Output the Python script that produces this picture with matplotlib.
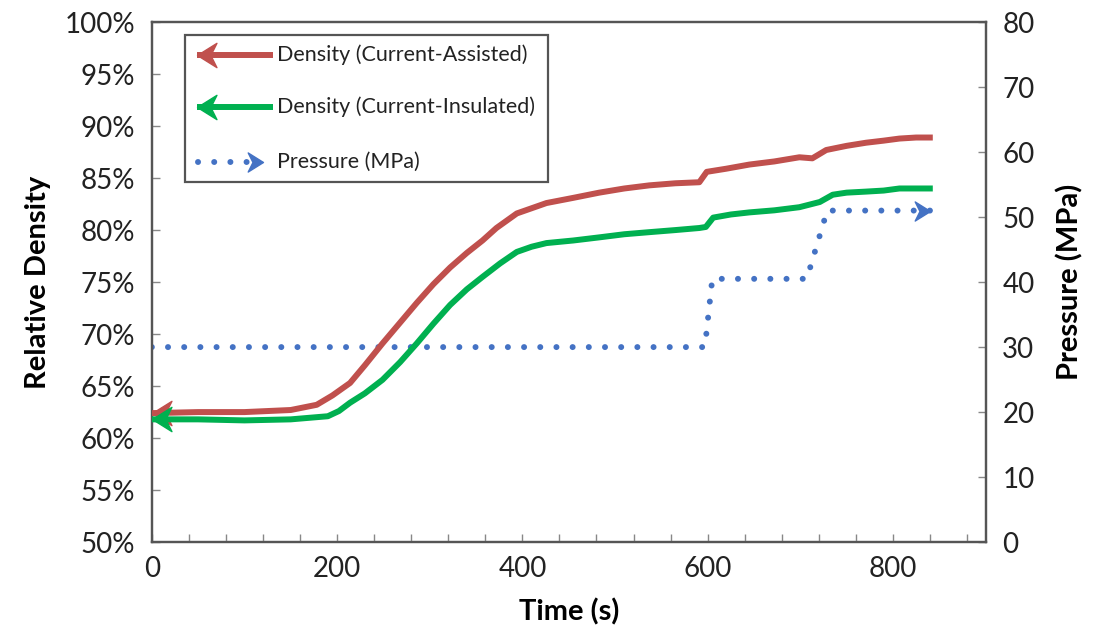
import matplotlib
matplotlib.use("Agg")
import matplotlib.pyplot as plt
from matplotlib.path import Path
from matplotlib.patches import Rectangle
from matplotlib.ticker import MultipleLocator, FuncFormatter

plt.rcParams['font.family'] = ['Lato', 'DejaVu Sans']

# ---------------------------
# Data
# ---------------------------
red_t = [0, 50, 100, 150, 178, 195, 214, 230, 249, 268, 286, 304, 322, 340, 357,
         372, 394, 426, 455, 483, 510, 537, 565, 591, 599, 620, 645, 672, 699, 713,
         728, 750, 771, 790, 807, 825, 843]
red_d = [62.4, 62.5, 62.5, 62.7, 63.2, 64.1, 65.3, 67.0, 69.1, 71.1, 73.0, 74.8, 76.4, 77.8, 79.0,
         80.2, 81.6, 82.6, 83.1, 83.6, 84.0, 84.3, 84.5, 84.6, 85.6, 85.9, 86.3, 86.6, 87.0, 86.9,
         87.7, 88.1, 88.4, 88.6, 88.8, 88.9, 88.9]

green_t = [0, 50, 100, 150, 190, 202, 214, 230, 249, 268, 286, 304, 322, 340, 357,
           376, 394, 410, 426, 455, 483, 510, 537, 565, 591, 598, 606, 625, 645, 672,
           699, 721, 735, 750, 771, 790, 807, 825, 843]
green_d = [61.8, 61.8, 61.7, 61.8, 62.1, 62.6, 63.4, 64.3, 65.6, 67.3, 69.1, 71.0, 72.8, 74.3, 75.5,
           76.8, 77.9, 78.4, 78.75, 79.0, 79.3, 79.6, 79.8, 80.0, 80.2, 80.3, 81.2, 81.5, 81.7, 81.9,
           82.2, 82.7, 83.4, 83.6, 83.7, 83.8, 84.0, 84.0, 84.0]

press_t = [0, 597, 605, 707, 729, 840]
press_v = [30, 30, 40.5, 40.5, 51, 51]

labels = ["Density (Current-Assisted)", "Density (Current-Insulated)", "Pressure (MPa)"]
RED, GREEN, BLUE = "#C0504D", "#00B050", "#4472C4"
SPINE = "#555555"

# arrow head markers (tip at the data point)
head_left = Path([(0, 0), (1.6, 1.0), (1.1, 0), (1.6, -1.0), (0, 0)],
                 [Path.MOVETO, Path.LINETO, Path.LINETO, Path.LINETO, Path.CLOSEPOLY])
head_right = Path([(0, 0), (-1.6, 1.0), (-1.1, 0), (-1.6, -1.0), (0, 0)],
                  [Path.MOVETO, Path.LINETO, Path.LINETO, Path.LINETO, Path.CLOSEPOLY])

fig = plt.figure(figsize=(11, 6.4), dpi=100)
ax = fig.add_axes([0.138, 0.153, 0.758, 0.8125])
ax2 = ax.twinx()

# ---------------------------
# Curves
# ---------------------------
ax.plot(red_t, red_d, color=RED, lw=4.3, solid_capstyle='butt', zorder=3)
ax.plot(red_t[:1], red_d[:1], ls='none', marker=head_left, ms=28, color=RED,
        mec=RED, clip_on=False, zorder=3)
ax.plot(green_t, green_d, color=GREEN, lw=4.3, solid_capstyle='butt', zorder=4)
ax.plot(green_t[:1], green_d[:1], ls='none', marker=head_left, ms=28, color=GREEN,
        mec=GREEN, clip_on=False, zorder=4)

ax2.plot(press_t, press_v, color=BLUE, lw=4.3, ls=(0, (0.01, 2.7)),
         dash_capstyle='round', zorder=2)
ax2.plot(press_t[-1:], press_v[-1:], ls='none', marker=head_right, ms=22,
         color=BLUE, mec=BLUE, zorder=2)

# ---------------------------
# Axes styling
# ---------------------------
ax.set_xlim(0, 900)
ax.set_ylim(50, 100)
ax2.set_ylim(0, 80)

ax.xaxis.set_major_locator(MultipleLocator(200))
ax.xaxis.set_minor_locator(MultipleLocator(40))
ax.yaxis.set_major_locator(MultipleLocator(5))
ax.yaxis.set_major_formatter(FuncFormatter(lambda v, p: f"{v:.0f}%"))
ax2.yaxis.set_major_locator(MultipleLocator(10))

ax.tick_params(axis='x', which='both', direction='in', length=6, width=1,
               color="#888888", labelsize=20, pad=10, labelcolor="#222222")
ax.tick_params(axis='y', direction='in', length=6, width=1, color="#888888",
               labelsize=20, pad=12, labelcolor="#222222")
ax2.tick_params(axis='y', direction='in', length=6, width=1, color="#888888",
                labelsize=20, pad=12, labelcolor="#222222")

for a in (ax, ax2):
    for s in a.spines.values():
        s.set_color(SPINE)
        s.set_linewidth(1.6)

ax.set_xlabel("Time (s)", fontsize=21, fontweight='bold', labelpad=12)
ax.set_ylabel("Relative Density", fontsize=21, fontweight='bold', labelpad=10)
ax2.set_ylabel("Pressure (MPa)", fontsize=21, fontweight='bold', labelpad=16)

# ---------------------------
# Legend (box with arrow samples)
# ---------------------------
ax.set_zorder(ax2.get_zorder() + 1)
ax.patch.set_visible(False)

tr = ax.transAxes
ax.add_patch(Rectangle((0.040, 0.692), 0.435, 0.283, transform=tr, fill=True,
                       facecolor='white', edgecolor=SPINE, lw=1.6, zorder=6))
rows = [0.9365, 0.8365, 0.731]
ax.plot([0.054, 0.145], [rows[0]] * 2, transform=tr, color=RED, lw=4.3,
        solid_capstyle='butt', zorder=7, clip_on=False)
ax.plot([0.054], [rows[0]], transform=tr, ls='none', marker=head_left, ms=28,
        color=RED, mec=RED, zorder=7, clip_on=False)
ax.plot([0.054, 0.145], [rows[1]] * 2, transform=tr, color=GREEN, lw=4.3,
        solid_capstyle='butt', zorder=7, clip_on=False)
ax.plot([0.054], [rows[1]], transform=tr, ls='none', marker=head_left, ms=28,
        color=GREEN, mec=GREEN, zorder=7, clip_on=False)
ax.plot([0.056, 0.122], [rows[2]] * 2, transform=tr, color=BLUE, lw=4.3,
        ls=(0, (0.01, 2.7)), dash_capstyle='round', zorder=7, clip_on=False)
ax.plot([0.133], [rows[2]], transform=tr, ls='none', marker=head_right, ms=22,
        color=BLUE, mec=BLUE, zorder=7, clip_on=False)
for y, lab in zip(rows, labels):
    ax.text(0.150, y, lab, transform=tr, fontsize=15.5, va='center', ha='left',
            color="#222222", zorder=8)

fig.savefig("out.png", dpi=100)
